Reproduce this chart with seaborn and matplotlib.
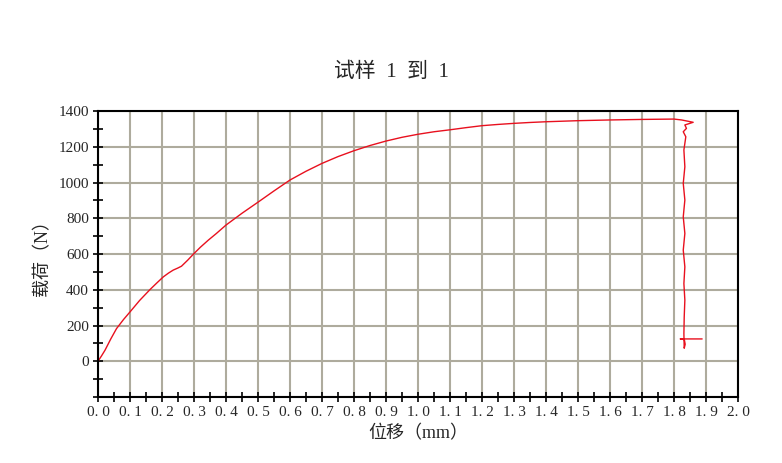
import numpy as np
import pandas as pd
import matplotlib
matplotlib.use("Agg")
import matplotlib.pyplot as plt
import seaborn as sns

# values
disp = [0.0, 0.011, 0.022, 0.04, 0.058, 0.08, 0.1, 0.13, 0.163, 0.185,
        0.204, 0.22, 0.235, 0.25, 0.261, 0.28, 0.298, 0.32, 0.345, 0.37,
        0.4, 0.45, 0.5, 0.55, 0.6, 0.65, 0.7, 0.75, 0.8, 0.85,
        0.9, 0.95, 1.0, 1.05, 1.1, 1.15, 1.2, 1.25, 1.3, 1.35,
        1.4, 1.5, 1.6, 1.7, 1.8, 1.824, 1.86, 1.834, 1.839, 1.829,
        1.837, 1.831, 1.834, 1.829, 1.834, 1.829, 1.834, 1.829, 1.834, 1.831,
        1.834, 1.832, 1.831, 1.832, 1.835, 1.832, 1.82, 1.888]
load = [0, 30, 62, 125, 183, 234, 276, 340, 402, 440,
        472, 493, 510, 522, 532, 565, 599, 638, 678, 715,
        762, 828, 890, 953, 1014, 1063, 1107, 1145, 1178, 1207,
        1232, 1253, 1270, 1284, 1295, 1307, 1318, 1325, 1331, 1336,
        1340, 1346, 1350, 1353, 1355, 1350, 1337, 1322, 1303, 1284,
        1256, 1182, 1088, 995, 902, 808, 715, 622, 528, 435,
        342, 248, 155, 73, 95, 125, 125, 125]

title = "试样  1  到  1"
xlab = "位移（mm）"
ylab = "载荷（N）"

x_major = np.round(np.arange(0, 2.01, 0.1), 1)
y_major = list(range(-200, 1401, 200))

df = pd.DataFrame({"disp": disp, "load": load})

sns.set_style("white")
fonts = ["Liberation Serif", "Noto Sans CJK SC"]
plt.rcParams["font.family"] = fonts

fig = plt.figure(figsize=(7.82, 4.63), dpi=100)
ax = fig.add_axes([0.1253, 0.1425, 0.8184, 0.6177])

sns.lineplot(data=df, x="disp", y="load", sort=False, estimator=None,
             color="#e8101e", linewidth=1.0, ax=ax)

ax.set_xlim(0, 2.0)
ax.set_ylim(-200, 1400)

ax.set_xticks(x_major)
ax.set_xticklabels([f"{v:.1f}".replace(".", ". ") for v in x_major], fontsize=11)
ax.set_xticks(np.arange(0.05, 2.0, 0.1), minor=True)
ax.set_yticks(y_major)
ax.set_yticklabels(["" if v < 0 else str(v) for v in y_major], fontsize=11)
ax.set_yticks(range(-100, 1400, 200), minor=True)

ax.tick_params(which="both", direction="inout", length=7, width=1.2, color="black",
               left=True, bottom=True, pad=3)

ax.grid(True, which="major", color="#aeab9d", linewidth=1.5)
ax.set_axisbelow(True)
for s in ax.spines.values():
    s.set_color("black")
    s.set_linewidth(1.5)

ax.set_xlabel(xlab, fontsize=13, labelpad=4)
ax.set_ylabel(ylab, fontsize=13, labelpad=5)
fig.text(0.5, 0.845, title, ha="center", va="center", fontsize=15)

fig.savefig("out.png", dpi=100)
